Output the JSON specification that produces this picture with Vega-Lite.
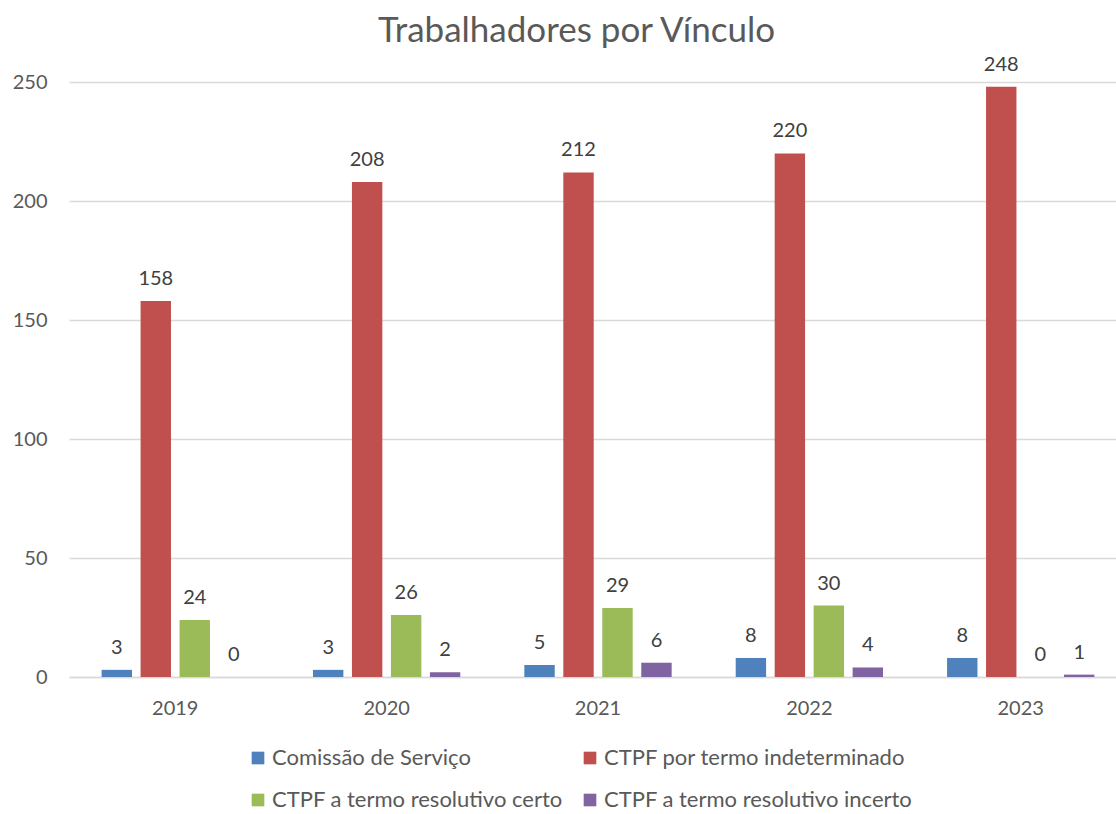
{
  "$schema": "https://vega.github.io/schema/vega-lite/v6.json",
  "width": 1047,
  "height": 595,
  "autosize": {"type": "none"},
  "padding": {"left": 69, "top": 82, "right": 0, "bottom": 137},
  "background": "white",
  "config": {
    "font": "Lato",
    "view": {"stroke": null}
  },
  "title": {
    "text": "Trabalhadores por Vínculo",
    "fontSize": 35,
    "font": "Lato",
    "fontWeight": "normal",
    "color": "#595959",
    "anchor": "middle",
    "dx": -16,
    "offset": 6
  },
  "data": {
    "values": [
      {"ano": "2019", "vinculo": "Comissão de Serviço", "n": 3},
      {"ano": "2019", "vinculo": "CTPF por termo indeterminado", "n": 158},
      {"ano": "2019", "vinculo": "CTPF a termo resolutivo certo", "n": 24},
      {"ano": "2019", "vinculo": "CTPF a termo resolutivo incerto", "n": 0},
      {"ano": "2020", "vinculo": "Comissão de Serviço", "n": 3},
      {"ano": "2020", "vinculo": "CTPF por termo indeterminado", "n": 208},
      {"ano": "2020", "vinculo": "CTPF a termo resolutivo certo", "n": 26},
      {"ano": "2020", "vinculo": "CTPF a termo resolutivo incerto", "n": 2},
      {"ano": "2021", "vinculo": "Comissão de Serviço", "n": 5},
      {"ano": "2021", "vinculo": "CTPF por termo indeterminado", "n": 212},
      {"ano": "2021", "vinculo": "CTPF a termo resolutivo certo", "n": 29},
      {"ano": "2021", "vinculo": "CTPF a termo resolutivo incerto", "n": 6},
      {"ano": "2022", "vinculo": "Comissão de Serviço", "n": 8},
      {"ano": "2022", "vinculo": "CTPF por termo indeterminado", "n": 220},
      {"ano": "2022", "vinculo": "CTPF a termo resolutivo certo", "n": 30},
      {"ano": "2022", "vinculo": "CTPF a termo resolutivo incerto", "n": 4},
      {"ano": "2023", "vinculo": "Comissão de Serviço", "n": 8},
      {"ano": "2023", "vinculo": "CTPF por termo indeterminado", "n": 248},
      {"ano": "2023", "vinculo": "CTPF a termo resolutivo certo", "n": 0},
      {"ano": "2023", "vinculo": "CTPF a termo resolutivo incerto", "n": 1}
    ]
  },
  "encoding": {
    "x": {
      "field": "ano",
      "type": "nominal",
      "scale": {"range": [0, 1058], "paddingInner": 0.2624, "paddingOuter": 0.134},
      "axis": {
        "title": null,
        "labelAngle": 0,
        "labelFontSize": 20,
        "labelColor": "#595959",
        "labelPadding": 21,
        "ticks": false,
        "domainColor": "#d9d9d9",
        "domainWidth": 1.5,
        "grid": false
      }
    },
    "xOffset": {
      "field": "vinculo",
      "type": "nominal",
      "sort": ["Comissão de Serviço", "CTPF por termo indeterminado", "CTPF a termo resolutivo certo", "CTPF a termo resolutivo incerto"],
      "scale": {"paddingInner": 0.22, "paddingOuter": 0.11}
    },
    "y": {
      "field": "n",
      "type": "quantitative",
      "scale": {"domain": [0, 250], "nice": false},
      "axis": {
        "title": null,
        "values": [0, 50, 100, 150, 200, 250],
        "labelFontSize": 20,
        "labelColor": "#595959",
        "labelPadding": 22,
        "ticks": false,
        "domain": false,
        "gridColor": "#d9d9d9",
        "gridWidth": 1.5
      }
    }
  },
  "layer": [
    {
      "mark": {"type": "bar"},
      "encoding": {
        "color": {
          "field": "vinculo",
          "type": "nominal",
          "scale": {
            "domain": ["Comissão de Serviço", "CTPF por termo indeterminado", "CTPF a termo resolutivo certo", "CTPF a termo resolutivo incerto"],
            "range": ["#4f81bd", "#c0504d", "#9bbb59", "#8064a2"]
          },
          "legend": {
            "title": null,
            "orient": "none",
            "legendX": 178,
            "legendY": 665,
            "direction": "horizontal",
            "columns": 2,
            "columnPadding": 16,
            "rowPadding": 20,
            "padding": 0,
            "symbolType": "square",
            "symbolSize": 160,
            "symbolStrokeWidth": 0,
            "symbolOpacity": 1,
            "labelFontSize": 22,
            "labelLimit": 0,
            "labelColor": "#595959",
            "labelOffset": 3
          }
        }
      }
    },
    {
      "mark": {"type": "text", "baseline": "alphabetic", "dy": -16, "fontSize": 20, "color": "#404040"},
      "encoding": {
        "text": {"field": "n", "type": "quantitative"}
      }
    }
  ]
}
